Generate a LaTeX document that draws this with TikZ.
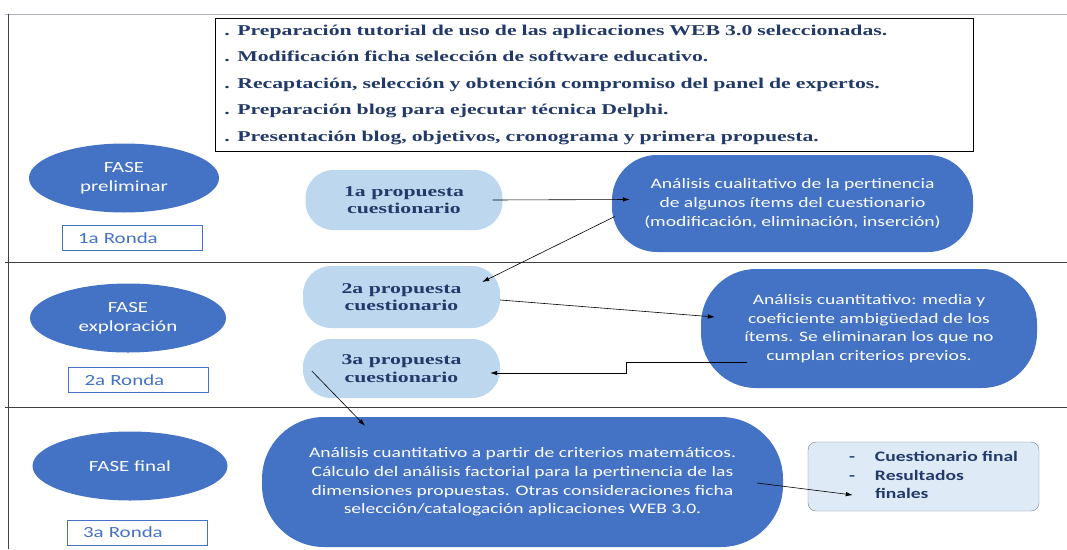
\documentclass[tikz,border=0pt]{standalone}
\usepackage{fontspec}
\usepackage{tikz}
\usetikzlibrary{shapes.geometric,arrows.meta}
\setmainfont[FakeStretch=1.35]{Carlito}
\newfontfamily\cambria[FakeStretch=1.45]{Liberation Serif}
\definecolor{azul}{HTML}{4472C4}
\definecolor{celeste}{HTML}{BDD7EE}
\definecolor{marino}{HTML}{223A6A}
\definecolor{palido}{HTML}{DEEBF7}

\begin{document}
\begin{tikzpicture}[x=1pt,y=-1pt,
    fase/.style={ellipse,fill=azul,text=white,minimum width=190pt,minimum height=69pt,inner sep=0pt,align=center,font=\fontsize{15.5}{19}\selectfont},
    ronda/.style={draw=azul,thick,text=azul,minimum height=25pt,text width=108pt,inner xsep=16pt,inner ysep=0pt,align=left,font=\fontsize{15.5}{18}\selectfont},
    prop/.style={fill=celeste,text=marino,rounded corners=28pt,minimum width=197pt,minimum height=60pt,align=center,font=\cambria\bfseries\fontsize{15}{17.5}\selectfont},
    analisis/.style={fill=azul,text=white,align=center,font=\fontsize{14.5}{18.7}\selectfont},
    flecha/.style={-{Latex[length=7pt,width=4.5pt]},semithick}]
  \useasboundingbox (0,0) rectangle (1067,549);
  \draw[blue!25!gray!50] (5,14) -- (1067,14);
  \draw[darkgray,semithick] (8,14) -- (8,549);
  \draw[darkgray,semithick] (5,262) -- (1067,262);
  \draw[darkgray,semithick] (5,407) -- (1067,407);

  \node[draw,thick,anchor=north west,text width=740pt,inner xsep=9pt,minimum height=133pt,align=left,text=marino,font=\cambria\bfseries\fontsize{15}{26.5}\selectfont] (tareas) at (215,18)
    {. Preparación tutorial de uso de las aplicaciones WEB 3.0 seleccionadas.\\
     . Modificación ficha selección de software educativo.\\
     . Recaptación, selección y obtención compromiso del panel de expertos.\\
     . Preparación blog para ejecutar técnica Delphi.\\
     . Presentación blog, objetivos, cronograma y primera propuesta.};

  \node[fase] (f1) at (124,178) {FASE\\preliminar};
  \node[fase,minimum width=196pt] (f2) at (128,318) {FASE\\exploración};
  \node[fase,minimum width=195pt] (f3) at (130,466) {FASE final};
  \node[ronda] (r1) at (132,238) {1a Ronda};
  \node[ronda] (r2) at (138.5,380) {2a Ronda};
  \node[ronda] (r3) at (137,532.5) {3a Ronda};

  \node[prop] (p1) at (404,200) {1a propuesta\\cuestionario};
  \node[prop,minimum height=62pt] (p2) at (401.5,297) {2a propuesta\\cuestionario};
  \node[prop,minimum height=59pt] (p3) at (401.5,368.5) {3a propuesta\\cuestionario};

  \node[analisis,rounded corners=45pt,minimum width=361pt,minimum height=97pt] (cual) at (792.5,203.5)
    {Análisis cualitativo de la pertinencia\\de algunos ítems del cuestionario\\(modificación, eliminación, inserción)};
  \node[analisis,rounded corners=55pt,minimum width=336pt,minimum height=119pt] (cuant) at (869,328.5)
    {Análisis cuantitativo: media y\\coeficiente ambigüedad de los\\ítems. Se eliminaran los que no\\cumplan criterios previos.};
  \node[analisis,rounded corners=62pt,minimum width=521pt,minimum height=130pt] (fin) at (522.5,482)
    {Análisis cuantitativo a partir de criterios matemáticos.\\Cálculo del análisis factorial para la pertinencia de las\\dimensiones propuestas. Otras consideraciones ficha\\selección/catalogación aplicaciones WEB 3.0.};
  \node[draw=gray!70!azul,fill=palido,rounded corners=8pt,minimum width=231pt,minimum height=69pt,text=marino,font=\bfseries\fontsize{14.5}{18.5}\selectfont] (res) at (923.5,476.5)
    {\begin{tabular}{@{\hspace{20pt}}l@{\hspace{20pt}}l@{}}-&Cuestionario final\\-&Resultados\\&finales\end{tabular}};

  \draw[flecha] ([xshift=-10pt]p1.east) -- ([xshift=18pt,yshift=4pt]cual.west);
  \draw[flecha] ([xshift=3pt,yshift=-13pt]cual.west) -- ([xshift=-18pt,yshift=15pt]p2.east);
  \draw[flecha] ([yshift=-3pt]p2.east) -- ([xshift=14pt,yshift=11.5pt]cuant.west);
  \draw[flecha] ([xshift=46pt,yshift=-33.5pt]cuant.west) -- ++(-121,0) -- ++(0,11) -- ([xshift=-10pt,yshift=-4.5pt]p3.east);
  \draw[flecha] ([xshift=9pt,yshift=-2.5pt]p3.west) -- ([xshift=-157.5pt,yshift=-9pt]fin.north);
  \draw[flecha] ([xshift=-26pt,yshift=-1pt]fin.east) -- ([xshift=45pt,yshift=-18.5pt]res.west);
\end{tikzpicture}
\end{document}
